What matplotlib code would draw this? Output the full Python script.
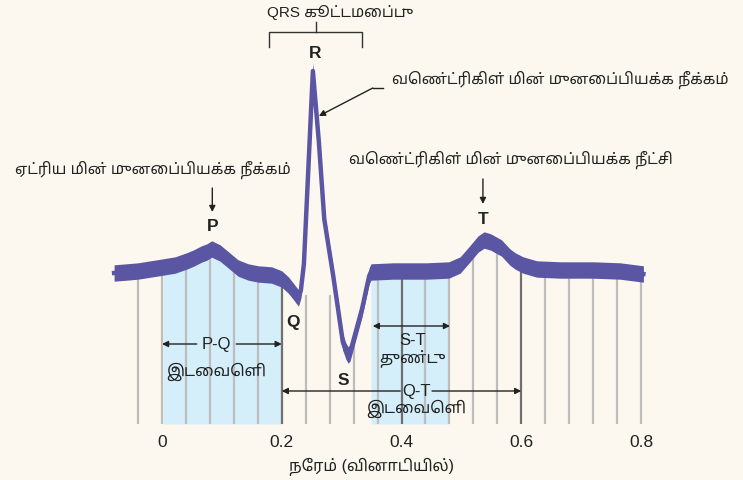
import matplotlib
matplotlib.use("Agg")
import numpy as np
import matplotlib.pyplot as plt

# ECG trace (time in s, amplitude in mV)
time_s = [-0.080, -0.059, -0.040, -0.019, 0.002, 0.022, 0.041, 0.053, 0.066, 0.075,
          0.083, 0.090, 0.097, 0.111, 0.127, 0.144, 0.161, 0.183, 0.200, 0.211,
          0.219, 0.224, 0.228, 0.232, 0.237, 0.252, 0.262, 0.271, 0.277, 0.286,
          0.294, 0.302, 0.307, 0.311, 0.314, 0.319, 0.334, 0.346, 0.349, 0.386,
          0.442, 0.479, 0.498, 0.514, 0.528, 0.538, 0.549, 0.567, 0.581, 0.590,
          0.603, 0.626, 0.665, 0.720, 0.765, 0.804]
volts = [-0.02, -0.01, 0.00, 0.02, 0.04, 0.06, 0.10, 0.13, 0.17, 0.19,
         0.22, 0.20, 0.18, 0.11, 0.03, -0.01, -0.03, -0.04, -0.08, -0.14,
         -0.20, -0.24, -0.27, -0.19, 0.07, 2.00, 1.29, 0.52, 0.29, -0.05,
         -0.38, -0.71, -0.80, -0.84, -0.82, -0.71, -0.38, -0.05, -0.01, 0.00,
         0.00, 0.01, 0.06, 0.17, 0.27, 0.31, 0.29, 0.23, 0.14, 0.10,
         0.06, 0.02, 0.01, 0.01, 0.00, -0.03]

grid_times = [round(-0.04 + 0.04 * i, 2) for i in range(22)]
major_times = [0.2, 0.4, 0.6]
tick_vals = [0, 0.2, 0.4, 0.6, 0.8]
tick_labels = ["0", "0.2", "0.4", "0.6", "0.8"]

pq_span = (0.0, 0.2)
st_span = (0.349, 0.481)
qt_span = (0.2, 0.6)

lbl_atrial = "ஏட்ரிய மின் முனைப்பியக்க நீக்கம்"
lbl_vent_dep = "வெண்ட்ரிகிள் மின் முனைப்பியக்க நீக்கம்"
lbl_vent_rep = "வெண்ட்ரிகிள் மின் முனைப்பியக்க நீட்சி"
lbl_qrs = "QRS கூட்டமைப்பு"
lbl_interval = "இடைவெளி"
lbl_segment = "துண்டு"
lbl_xaxis = "நேரம் (வினாடியில்)"

bg = "#fcf8ef"
trace_col = "#5a56a4"
fill_col = "#d4eefa"
ink = "#222222"
tamil = ["Liberation Sans Narrow", "Liberation Sans", "Noto Sans Tamil", "Hind Madurai", "DejaVu Sans"]
narrow = ["Liberation Sans Narrow", "Liberation Sans", "DejaVu Sans"]
latin = ["Liberation Sans", "DejaVu Sans"]

t = np.array(time_s)
v = np.array(volts)

fig = plt.figure(figsize=(7.43, 4.81), dpi=100, facecolor=bg)
ax = fig.add_axes([0, 56 / 481, 1, 425 / 481])
ax.set_facecolor("none")
ax.set_xlim(-162 / 598.75, 581 / 598.75)
ax.set_ylim(-1.53, 2.72)
y0 = -1.53

# shaded intervals under the trace
for lo, hi in [pq_span, st_span]:
    m = (t >= lo - 1e-6) & (t <= hi + 1e-6)
    ax.fill_between(t[m], y0, v[m], color=fill_col, lw=0, zorder=1)

# vertical grid lines running up to the trace
gt = np.array(grid_times)
tops = np.interp(gt, t, v)
tops[(gt > 0.23) & (gt < 0.3)] = -0.24
cols = ["#707070" if any(abs(g - mj) < 1e-6 for mj in major_times) else "#bdbdbd" for g in gt]
ax.vlines(gt, y0, tops, colors=cols, lw=1.6, zorder=2)

# the trace itself: a ribbon plus a thin line for steep parts
ax.fill_between(t, v - 0.082, v + 0.082, color=trace_col, lw=0, zorder=4)
ax.plot(t, v, color=trace_col, lw=3.2, solid_joinstyle="round", zorder=4)

arrow = dict(arrowstyle="-|>", color=ink, lw=1.0, mutation_scale=9, shrinkA=0, shrinkB=0)

# wave letters
for s, x, y in [("P", 0.084, 0.45), ("T", 0.536, 0.53), ("R", 0.256, 2.19),
                ("Q", 0.219, -0.50), ("S", 0.302, -1.09)]:
    ax.text(x, y, s, ha="center", va="center", fontsize=12.5, fontweight="bold",
            family=latin, color=ink, zorder=6)

# P and T annotations
ax.annotate("", xy=(0.084, 0.59), xytext=(0.084, 0.83), arrowprops=arrow)
ax.text(-0.015, 1.02, lbl_atrial, ha="center", va="center", fontsize=11, family=tamil, color=ink)
ax.annotate("", xy=(0.536, 0.67), xytext=(0.536, 0.92), arrowprops=arrow)
ax.text(0.583, 1.12, lbl_vent_rep, ha="center", va="center", fontsize=11, family=tamil, color=ink)

# R annotation with a bent leader
ax.plot([0.369, 0.352], [1.83, 1.83], color=ink, lw=1.0)
ax.annotate("", xy=(0.262, 1.55), xytext=(0.352, 1.83), arrowprops=arrow)
ax.text(0.665, 1.92, lbl_vent_dep, ha="center", va="center", fontsize=11, family=tamil, color=ink)

# QRS bracket
ax.plot([0.179, 0.179, 0.334, 0.334], [2.24, 2.39, 2.39, 2.24], color="#333333", lw=1.0)
ax.plot([0.257, 0.257], [2.39, 2.49], color="#333333", lw=1.0)
ax.text(0.298, 2.60, lbl_qrs, ha="center", va="center", fontsize=11, family=tamil, color=ink)

# P-Q interval
ax.annotate("", xy=(pq_span[0], -0.73), xytext=(0.058, -0.73), arrowprops=arrow)
ax.annotate("", xy=(pq_span[1], -0.73), xytext=(0.124, -0.73), arrowprops=arrow)
ax.text(0.091, -0.73, "P-Q", ha="center", va="center", fontsize=12, family=narrow, color=ink)
ax.text(0.091, -1.00, lbl_interval, ha="center", va="center", fontsize=11.5, family=tamil, color=ink)

# S-T segment
ax.annotate("", xy=(0.352, -0.55), xytext=(0.481, -0.55),
            arrowprops=dict(arrow, arrowstyle="<|-|>"))
ax.text(0.418, -0.69, "S-T", ha="center", va="center", fontsize=12, family=narrow, color=ink)
ax.text(0.418, -0.86, lbl_segment, ha="center", va="center", fontsize=11.5, family=tamil, color=ink)

# Q-T interval
ax.annotate("", xy=(qt_span[0], -1.20), xytext=(0.398, -1.20), arrowprops=arrow)
ax.annotate("", xy=(qt_span[1], -1.20), xytext=(0.451, -1.20), arrowprops=arrow)
ax.text(0.425, -1.20, "Q-T", ha="center", va="center", fontsize=12, family=narrow, color=ink)
ax.text(0.425, -1.37, lbl_interval, ha="center", va="center", fontsize=11.5, family=tamil, color=ink)

# axis
for sp in ax.spines.values():
    sp.set_visible(False)
ax.set_yticks([])
ax.set_xticks(tick_vals)
ax.set_xticklabels(tick_labels, family=narrow, fontsize=12.5, color=ink)
ax.tick_params(axis="x", length=0, pad=7)
ax.set_xlabel(lbl_xaxis, family=tamil, fontsize=11.5, color=ink, labelpad=6)

fig.savefig("out.png", dpi=100, facecolor=bg)
